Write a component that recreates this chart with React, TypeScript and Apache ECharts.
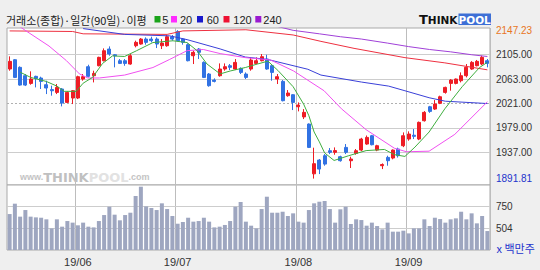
import React, { useEffect, useRef } from 'react';
import * as echarts from 'echarts';

const dates = [
  '2019-05-15','2019-05-16','2019-05-17','2019-05-20','2019-05-21','2019-05-22','2019-05-23','2019-05-24','2019-05-27','2019-05-28','2019-05-29','2019-05-30','2019-05-31',
  '2019-06-03','2019-06-04','2019-06-05','2019-06-07','2019-06-10','2019-06-11','2019-06-12','2019-06-13','2019-06-14','2019-06-17','2019-06-18','2019-06-19','2019-06-20','2019-06-21','2019-06-24','2019-06-25','2019-06-26','2019-06-27','2019-06-28',
  '2019-07-01','2019-07-02','2019-07-03','2019-07-04','2019-07-05','2019-07-08','2019-07-09','2019-07-10','2019-07-11','2019-07-12','2019-07-15','2019-07-16','2019-07-17','2019-07-18','2019-07-19','2019-07-22','2019-07-23','2019-07-24','2019-07-25','2019-07-26','2019-07-29','2019-07-30','2019-07-31',
  '2019-08-01','2019-08-02','2019-08-05','2019-08-06','2019-08-07','2019-08-08','2019-08-09','2019-08-12','2019-08-13','2019-08-14','2019-08-16','2019-08-19','2019-08-20','2019-08-21','2019-08-22','2019-08-23','2019-08-26','2019-08-27','2019-08-28','2019-08-29','2019-08-30',
  '2019-09-02','2019-09-03','2019-09-04','2019-09-05','2019-09-06','2019-09-09','2019-09-10','2019-09-11','2019-09-16','2019-09-17','2019-09-18','2019-09-19','2019-09-20','2019-09-23','2019-09-24','2019-09-25'
];

const opens = [
  2080.4,2096.4,2083.3,2068.9,2055.7,2067.8,2064.9,2053.4,2045.0,2040.2,2046.0,2023.0,2030.5,
  2030.5,2063.2,2084.4,2068.9,2086.1,2094.7,2114.8,2105.0,2094.7,2094.7,2089.0,2120.5,2123.4,2132.0,2132.0,2132.0,2120.5,2120.5,2136.0,
  2145.0,2132.0,2122.3,2103.3,2114.8,2091.8,2071.8,2061.4,2068.9,2080.4,2086.1,2080.4,2081.5,2071.8,2080.4,2090.1,2094.7,2097.6,2086.1,2063.2,2059.1,2034.5,2036.2,
  2015.5,1998.0,1985.7,1900.0,1923.7,1931.2,1939.8,1937.0,1929.5,1945.5,1922.6,1935.2,1940.9,1951.3,1965.6,1940.9,1914.0,1928.3,1927.2,1942.7,1948.4,
  1959.9,1966.5,1959.9,1991.4,2015.5,2011.5,2021.3,2040.2,2055.7,2055.7,2060.3,2068.9,2080.4,2086.1,2089.0,2094.7
];
const closes = [
  2093.6,2066.0,2052.8,2052.8,2063.2,2064.3,2059.1,2047.7,2043.0,2048.8,2021.9,2040.2,2043.1,
  2067.2,2067.2,2067.8,2072.9,2100.5,2111.9,2106.2,2103.3,2090.1,2090.1,2103.3,2126.3,2132.0,2126.3,2129.2,2123.4,2125.1,2136.0,2132.0,
  2129.2,2126.3,2094.7,2109.1,2109.1,2066.0,2051.7,2059.1,2080.4,2084.4,2083.3,2091.8,2074.6,2066.0,2095.9,2094.7,2101.6,2080.4,2074.6,2067.2,2025.9,2039.1,2023.0,
  2018.4,2005.8,1945.5,1917.5,1908.2,1916.8,1937.0,1940.0,1922.6,1937.0,1925.5,1939.8,1959.9,1962.7,1950.1,1948.4,1916.0,1922.6,1940.9,1931.2,1965.6,
  1968.5,1964.5,1988.6,2005.8,2007.5,2020.1,2032.7,2048.8,2061.4,2063.2,2068.9,2083.3,2091.8,2093.6,2100.5,2090.1
];
const lows = [
  2077.5,2064.9,2051.7,2051.1,2053.4,2048.8,2046.0,2037.3,2034.5,2037.3,2016.1,2021.9,2020.1,
  2028.7,2060.3,2066.0,2057.4,2085.0,2093.6,2103.3,2083.3,2089.0,2086.0,2087.8,2117.7,2122.3,2122.3,2126.3,2116.5,2114.8,2118.8,2129.2,
  2128.0,2122.3,2093.6,2089.0,2097.6,2064.9,2050.0,2057.4,2067.2,2077.5,2078.7,2078.7,2071.8,2063.2,2077.5,2089.0,2093.6,2079.2,2060.3,2054.6,2024.7,2032.7,2009.8,
  2007.5,1994.3,1944.4,1891.81,1899.6,1914.0,1934.0,1932.9,1921.0,1934.0,1910.0,1932.9,1939.0,1950.0,1949.0,1939.0,1908.2,1914.0,1925.0,1928.0,1946.0,
  1957.0,1959.9,1958.0,1990.0,2005.0,2010.0,2020.0,2038.0,2043.1,2054.0,2057.4,2066.0,2079.0,2085.0,2087.0,2083.3
];
const highs = [
  2102.2,2097.6,2085.0,2071.8,2076.4,2068.9,2067.2,2060.3,2051.7,2054.6,2047.7,2041.9,2044.2,
  2068.9,2071.8,2087.8,2077.5,2101.6,2115.9,2119.4,2106.2,2097.6,2097.6,2106.2,2129.2,2133.7,2134.9,2136.0,2134.9,2132.0,2138.9,2138.9,
  2147.23,2133.7,2124.6,2112.0,2116.5,2093.6,2073.5,2064.3,2090.1,2090.1,2089.0,2097.6,2083.3,2074.6,2100.5,2100.5,2106.2,2105.0,2089.0,2071.8,2061.4,2044.2,2037.3,
  2023.0,2011.5,1986.8,1945.0,1925.5,1934.0,1944.4,1945.5,1931.2,1951.3,1929.5,1942.7,1962.0,1966.0,1967.0,1950.0,1918.0,1931.2,1942.0,1945.0,1971.3,
  1973.1,1977.1,1990.0,2008.0,2017.0,2027.0,2034.5,2050.0,2063.0,2064.0,2074.6,2089.0,2094.0,2096.0,2103.3,2097.6
];
const volumes = [
  660,776,631,705,631,623,619,601,500,601,519,582,564,
  534,564,519,511,582,649,742,653,590,649,675,862,966,746,728,705,780,716,638,
  552,571,619,575,582,619,575,511,519,538,582,742,795,575,530,500,716,854,675,675,686,638,668,
  575,564,705,780,798,806,716,564,713,742,549,601,593,530,564,526,489,564,463,463,474,
  444,500,500,601,526,619,604,564,601,612,686,601,668,556,638,470
];

// moving averages: [candle index, value]
const ma5 = [[2,2075],[4,2066],[7,2059],[9,2051],[10.4,2042],[12.7,2042],[14,2056],[15.8,2066],[17.7,2090],[19.6,2103],[21.9,2102],[24.2,2112],[27.3,2126],[31.1,2129],[33.8,2126],[35.7,2112],[37.6,2089],[40.1,2072],[42,2077],[44.9,2083],[47.2,2089],[49.2,2094],[51.1,2078],[54,2050],[56,2020],[57,2000],[58,1972],[59,1955],[60,1936],[61.8,1923],[64.5,1931],[67.9,1940],[71.4,1942],[73.3,1933],[75.3,1930],[77.2,1946],[79.9,1972],[82.9,2012],[86.2,2050],[89.5,2083],[91,2092]];
const ma20 = [[2,2153],[3.3,2145],[7.5,2120],[10.8,2095],[13.3,2072],[14.9,2065],[17.1,2065],[21.9,2070],[27.3,2083],[30.5,2097],[33.8,2112],[36.9,2114],[40.1,2107],[44.9,2100],[49.7,2096],[54.1,2077],[59.9,2043],[63.2,2012],[67.9,1976],[73.3,1944],[75.6,1938],[79.9,1939],[84.8,1968],[91,2024]];
const ma60 = [[14,2150],[21.9,2140],[30.5,2137.5],[33.8,2131],[40.1,2115],[44.9,2101],[49.1,2097],[56.8,2080],[59.3,2070],[67,2058],[72.2,2051],[75.3,2043],[79.9,2031],[83,2025],[91,2021]];
const ma120 = [[0,2146],[12,2145],[14,2141],[30,2140],[33,2146],[45,2148],[54,2139],[59.3,2128],[65.6,2116],[75.3,2100],[82.9,2091],[91,2079]];
const ma240 = [[50,2156],[54,2147],[59,2141],[63,2136],[67,2132],[72,2125],[76,2119],[80,2114],[84,2110],[88,2105],[91,2102]];

const priceTicks = [2147.23, 2105, 2063, 2021, 1979, 1937, 1891.81];
const priceGrid = [2105, 2063, 2021, 1979, 1937];
const volumeTicks = [750, 504];

const RED = '#ee1c25';
const BLUE = '#3172e3';

export default function App() {
  const ref = useRef<HTMLDivElement>(null);
  useEffect(() => {
    document.body.style.margin = '0';
    const chart = echarts.init(ref.current!, null, { renderer: 'svg' });
    const isMonthStart = (i: number) => i > 0 && dates[i].slice(0, 7) !== dates[i - 1].slice(0, 7);
    const pMax = priceTicks[0];
    const pMin = priceTicks[priceTicks.length - 1];
    const maLine = (name: string, data: number[][], color: string) => ({
      name, type: 'line', xAxisIndex: 2, yAxisIndex: 0, data, symbol: 'none', showSymbol: false,
      lineStyle: { width: 1, color }, itemStyle: { color }, z: 4, silent: true,
    });
    const legend = [
      { c: '#1aa31a', t: '5', x: 154.5, tx: 162.3 },
      { c: '#ff2bff', t: '20', x: 171, tx: 180 },
      { c: '#1a1acc', t: '60', x: 197, tx: 206.7 },
      { c: '#ee1133', t: '120', x: 223.5, tx: 233.3 },
      { c: '#9a1ad0', t: '240', x: 255.3, tx: 263.3 },
    ];
    const graphics: any[] = [
      { type: 'text', x: 6, y: 19.5, style: { text: '거래소(종합)·일간(90일)·이평', font: '11px "Noto Sans CJK KR"', fill: '#222', verticalAlign: 'middle' } },
      ...legend.map(l => ({ type: 'rect', shape: { x: l.x, y: 16, width: 6, height: 6.5 }, style: { fill: l.c } })),
      ...legend.map(l => ({ type: 'text', x: l.tx, y: 19.5, style: { text: l.t, font: '11px "Liberation Sans"', fill: '#222', verticalAlign: 'middle' } })),
      { type: 'text', x: 419, y: 19.5, style: { text: '{a|T}{b|HINK}', verticalAlign: 'middle', rich: { a: { font: 'bold 13px "DejaVu Sans"', fill: '#111' }, b: { font: 'bold 10.5px "DejaVu Sans"', fill: '#111' } } } },
      { type: 'rect', shape: { x: 458.5, y: 13.5, width: 32.5, height: 11.5 }, style: { fill: '#3d6fd6' } },
      { type: 'text', x: 474.7, y: 19.5, style: { text: 'POOL', font: 'bold 10.5px "DejaVu Sans"', fill: '#fff', align: 'center', verticalAlign: 'middle' } },
      { type: 'text', x: 20, y: 177, z: 1, style: { text: '{a|www.}{b|THINK}{c|POOL}{a|.com}', verticalAlign: 'middle', rich: { a: { font: 'bold 9px "Liberation Sans"', fill: '#c4c4c4' }, b: { font: 'bold 13px "DejaVu Sans"', fill: '#c0c0c0' }, c: { font: 'bold 13px "DejaVu Sans"', fill: '#e2e2e2' } } } },
      { type: 'text', x: 496.5, y: 247.7, style: { text: 'x 백만주', font: '11px "Noto Sans CJK KR"', fill: '#2233cc', verticalAlign: 'middle' } },
    ];
    const option: any = {
      animation: false,
      backgroundColor: '#efefef',
      grid: [
        { left: 7, top: 28, width: 483, height: 157, show: true, backgroundColor: '#fff', borderColor: '#a9a9a9', borderWidth: 1 },
        { left: 7, top: 185, width: 483, height: 65, show: true, backgroundColor: '#fff', borderColor: '#a9a9a9', borderWidth: 1 },
      ],
      xAxis: [
        { type: 'category', gridIndex: 0, data: dates, boundaryGap: true, axisLine: { show: false }, axisTick: { show: false }, axisLabel: { show: false },
          splitLine: { show: true, interval: (i: number) => isMonthStart(i), lineStyle: { color: '#bdbdbd', width: 1 } } },
        { type: 'category', gridIndex: 1, data: dates, boundaryGap: true, axisLine: { show: false }, axisTick: { show: false },
          axisLabel: { show: true, interval: (i: number) => isMonthStart(i), formatter: (v: string) => v.slice(2, 4) + '/' + v.slice(5, 7), color: '#333', fontSize: 11, fontFamily: 'Liberation Sans', margin: 6 },
          splitLine: { show: true, interval: (i: number) => isMonthStart(i), lineStyle: { color: '#bdbdbd', width: 1 } } },
        { type: 'value', gridIndex: 0, min: -0.5, max: dates.length - 0.5, show: false, position: 'top' },
      ],
      yAxis: [
        { type: 'value', gridIndex: 0, position: 'right', min: 1880.79, max: 2151.02, axisLine: { show: false }, axisTick: { show: false }, splitLine: { show: false },
          axisLabel: { customValues: priceTicks, margin: 6, fontSize: 10, fontFamily: 'Liberation Sans', color: '#333',
            formatter: (v: number) => v === pMax ? '{hi|' + v.toFixed(2) + '}' : v === pMin ? '{lo|' + v.toFixed(2) + '}' : v.toFixed(2),
            rich: { hi: { color: '#e8761e', fontSize: 10, fontFamily: 'Liberation Sans' }, lo: { color: '#2233cc', fontSize: 10, fontFamily: 'Liberation Sans' } } } },
        { type: 'value', gridIndex: 1, position: 'right', min: 258, max: 985, axisLine: { show: false }, axisTick: { show: false }, splitLine: { show: false },
          axisLabel: { customValues: volumeTicks, margin: 6, fontSize: 10, fontFamily: 'Liberation Sans', color: '#333' } },
      ],
      series: [
        { type: 'candlestick', xAxisIndex: 0, yAxisIndex: 0, z: 3, barWidth: 3.4,
          data: dates.map((_, i) => [opens[i], closes[i], lows[i], highs[i]]),
          itemStyle: { color: RED, color0: BLUE, borderColor: RED, borderColor0: BLUE, borderWidth: 1 },
          markLine: { z: 1, silent: true, symbol: 'none', label: { show: false }, animation: false,
            data: priceGrid.map(v => ({ yAxis: v, lineStyle: { color: v === 2021 ? '#b0b0b0' : '#cdcdcd', width: 1, type: v === 2021 ? [2, 2] : 'solid' } })) } },
        maLine('MA240', ma240, '#a040d8'),
        maLine('MA120', ma120, '#ee3040'),
        maLine('MA60', ma60, '#3a40d8'),
        maLine('MA20', ma20, '#f050f0'),
        maLine('MA5', ma5, '#3fae3f'),
        { type: 'bar', xAxisIndex: 1, yAxisIndex: 1, data: volumes, barWidth: 4, itemStyle: { color: '#9ea6c0' }, z: 3,
          markLine: { z: 1, silent: true, symbol: 'none', label: { show: false }, animation: false,
            data: volumeTicks.map(v => ({ yAxis: v, lineStyle: { color: '#cdcdcd', width: 1, type: 'solid' } })) } },
      ],
      graphic: graphics,
    };
    chart.setOption(option);
    return () => chart.dispose();
  }, []);
  return <div ref={ref} style={{ width: 540, height: 270 }} />;
}
